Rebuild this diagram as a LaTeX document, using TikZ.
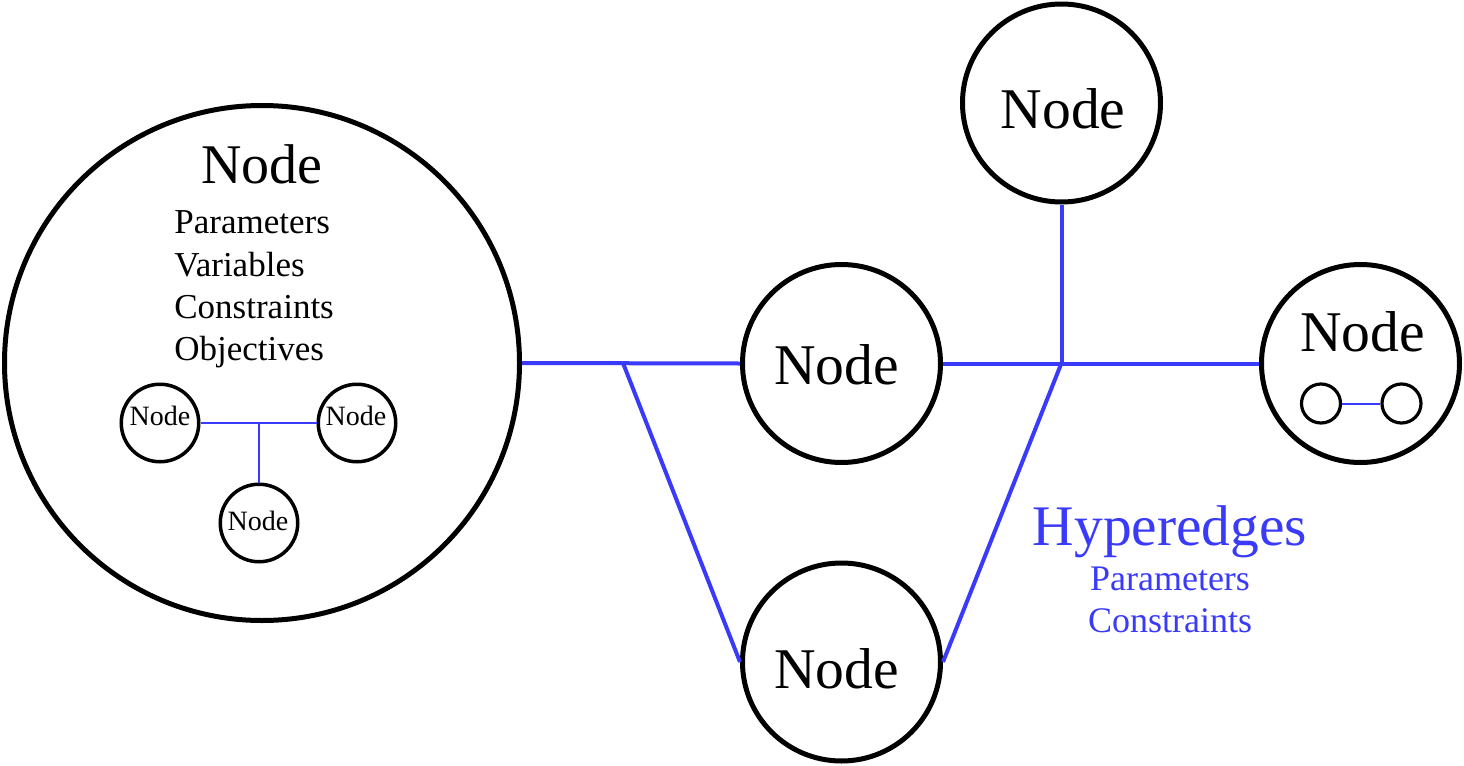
\documentclass[tikz,border=0pt]{standalone}
\usepackage{fontspec}
\setmainfont{Liberation Serif}
\definecolor{hblue}{HTML}{3A3AFA}
\tikzset{
  bignode/.style={circle,draw=black,line width=2.5pt,inner sep=0pt,minimum size=257.5pt},
  midnode/.style={circle,draw=black,line width=2.5pt,inner sep=0pt,minimum size=99pt},
  smallnode/.style={circle,draw=black,line width=1.75pt,inner sep=0pt,minimum size=38.75pt},
  tinynode/.style={circle,draw=black,line width=1.6pt,inner sep=0pt,minimum size=19.5pt},
  hedge/.style={draw=hblue,line width=2pt},
  inedge/.style={draw=hblue,line width=1pt},
  lbl/.style={inner sep=0pt,anchor=base},
  lbllist/.style={inner sep=0pt,anchor=base west,font=\fontsize{17.5pt}{21pt}\selectfont},
}
\begin{document}
\begin{tikzpicture}[x=0.5pt,y=-0.5pt]
\useasboundingbox (0,0) rectangle (1464,766);
% circles
\node[bignode] (big) at (262,363) {};
\node[midnode] (mid) at (841.5,363.5) {};
\node[midnode] (top) at (1061.5,103) {};
\node[midnode] (bot) at (841.5,662) {};
\node[midnode] (rgt) at (1360.5,363.5) {};
\node[smallnode] (sl) at (160,423) {};
\node[smallnode] (sr) at (357,423) {};
\node[smallnode] (sb) at (259,523) {};
\node[tinynode] (tl) at (1321,403.5) {};
\node[tinynode] (tr) at (1401.5,403.5) {};
% junctions
\coordinate (j1) at (623,363);
\coordinate (j2) at (1061.5,363);
\coordinate (ji) at (259,422);
% hyperedges
\draw[hedge] (big.east) -- (mid.west);
\draw[hedge] (mid.east) -- (rgt.west);
\draw[hedge] (j1) -- (bot.west);
\draw[hedge] (j2) -- (top.south);
\draw[hedge] (j2) -- (bot.east);
\draw[inedge] (sl.east) -- (sr.west);
\draw[inedge] (ji) -- (sb.north);
\draw[inedge] (tl.east) -- (tr.west);
% labels
\node[lbl,font=\fontsize{28pt}{32pt}\selectfont] (tbig) at (262,183) {Node};
\node[lbllist] (t1) at (174,233) {Parameters};
\node[lbllist] (t2) at (174,276) {Variables};
\node[lbllist] (t3) at (174,318) {Constraints};
\node[lbllist] (t4) at (174,360) {Objectives};
\node[lbl,font=\fontsize{14pt}{16pt}\selectfont] (tsl) at (160,425) {Node};
\node[lbl,font=\fontsize{14pt}{16pt}\selectfont] (tsr) at (356,425) {Node};
\node[lbl,font=\fontsize{14pt}{16pt}\selectfont] (tsb) at (258,530) {Node};
\node[lbl,font=\fontsize{28.8pt}{32pt}\selectfont] (tmid) at (836.5,384) {Node};
\node[lbl,font=\fontsize{28.8pt}{32pt}\selectfont] (ttop) at (1063,128) {Node};
\node[lbl,font=\fontsize{28.8pt}{32pt}\selectfont] (tbot) at (836.5,688) {Node};
\node[lbl,font=\fontsize{28.8pt}{32pt}\selectfont] (trgt) at (1362.5,351) {Node};
\node[lbl,text=hblue,font=\fontsize{28.7pt}{32pt}\selectfont] (th) at (1170,545) {Hyperedges};
\node[lbl,text=hblue,font=\fontsize{18pt}{21pt}\selectfont] (thp) at (1170,590) {Parameters};
\node[lbl,text=hblue,font=\fontsize{18pt}{21pt}\selectfont] (thc) at (1170,632) {Constraints};
\end{tikzpicture}
\end{document}
